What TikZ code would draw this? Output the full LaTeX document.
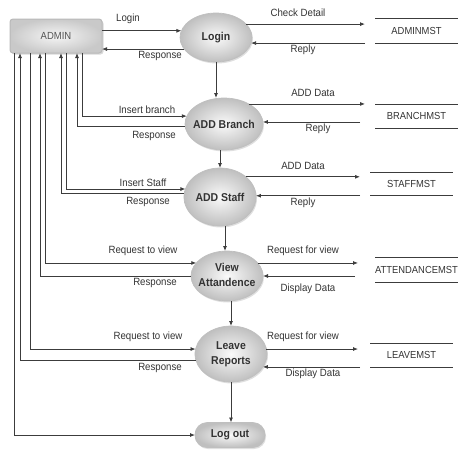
\documentclass[tikz,border=0pt]{standalone}
\usepackage{fontspec}
\setmainfont{Liberation Sans}[FakeStretch=0.92]
\usetikzlibrary{arrows.meta,shapes.geometric,shadows}
\definecolor{ink}{HTML}{333333}
\definecolor{ln}{HTML}{3C3C3C}
\newcommand\zw[1]{\makebox[0pt]{#1}}
\begin{document}
\begin{tikzpicture}[x=1pt,y=-1pt,
  proc/.style={ellipse, draw=gray!50, line width=0.7pt, shading=radial,
    inner color=gray!4, outer color=gray!50,
    drop shadow={opacity=0.25, shadow xshift=1pt, shadow yshift=-1.5pt},
    font=\fontsize{11.4}{15}\selectfont\bfseries, text=ink, inner sep=0pt, outer sep=0pt},
  logoutbox/.style={rectangle, rounded corners=12pt, draw=gray!50, line width=0.7pt, shading=radial,
    inner color=gray!4, outer color=gray!50,
    drop shadow={opacity=0.25, shadow xshift=1pt, shadow yshift=-1.5pt},
    minimum width=70pt, minimum height=25pt,
    font=\fontsize{11.4}{15}\selectfont\bfseries, text=ink, inner sep=0pt, outer sep=0pt},
  adminbox/.style={rectangle, rounded corners=3pt, draw=gray!55, line width=1pt,
    shading=radial, inner color=gray!8, outer color=gray!42,
    drop shadow={opacity=0.3, shadow xshift=1.5pt, shadow yshift=-1.5pt},
    minimum width=92pt, minimum height=34pt,
    font=\fontsize{10.3}{12}\selectfont, text=ink!85, inner sep=0pt, outer sep=0pt},
  store/.style={rectangle, minimum width=83pt, inner sep=0pt, outer sep=0pt,
    font=\fontsize{10.2}{12}\selectfont, text=ink},
  storeline/.style={draw=ln, line width=0.8pt},
  lbl/.style={font=\fontsize{10.5}{12}\selectfont, text=ink, inner sep=0pt},
  flow/.style={draw=ln, line width=0.8pt, -{Latex[length=5pt,width=4pt]}}
]
\useasboundingbox (0,0) rectangle (474,456);

% processes
\node[adminbox] (admin) at (56,36) {ADMIN};
\node[proc, minimum width=72pt, minimum height=49pt] (login) at (216,37.5) {\zw{Login}};
\node[proc, minimum width=78pt, minimum height=52pt] (branch) at (224,124) {\zw{ADD Branch}};
\node[proc, minimum width=72pt, minimum height=58pt] (staff) at (220,197) {\zw{ADD Staff}};
\node[proc, minimum width=72pt, minimum height=50pt] (view) at (227,276)
  {\zw{\begin{tabular}{@{}c@{}}View\\Attandence\end{tabular}}};
\node[proc, minimum width=72pt, minimum height=56pt] (leave) at (231,354)
  {\zw{\begin{tabular}{@{}c@{}}Leave\\Reports\end{tabular}}};
\node[logoutbox] (logout) at (230,435) {Log out};

% data stores
\node[store, minimum height=25pt] (adminmst) at (416.5,30.5) {ADMINMST};
\node[store, minimum height=24pt] (branchmst) at (416.5,116) {BRANCHMST};
\node[store, minimum height=23pt] (staffmst) at (411.5,183.5) {STAFFMST};
\node[store, minimum height=25pt] (attmst) at (416.5,269.5) {ATTENDANCEMST};
\node[store, minimum height=24pt] (leavemst) at (411.5,355) {LEAVEMST};
\foreach \s in {adminmst,branchmst,staffmst,attmst,leavemst}
  \draw[storeline] (\s.north west) -- (\s.north east) (\s.south west) -- (\s.south east);

% vertical flow
\draw[flow] (login.south) -- (login.south |- branch.north);
\draw[flow] (branch.south -| staff.north) -- (staff.north);
\draw[flow] ([xshift=5pt]staff.south) -- ([xshift=5pt]staff.south |- view.north);
\draw[flow] (view.south -| leave.north) -- (leave.north);
\draw[flow] (leave.south) -- (leave.south |- logout.north);

% Login
\draw[flow] (admin.east |- login.169) -- (login.169);
\draw[flow] (login.200) -- (admin.east |- login.200);
\draw[flow] (login.24) -- ([xshift=-10pt]adminmst.west |- login.24);
\draw[flow] ([xshift=-10pt]adminmst.west |- login.351) -- (login.351);
\node[lbl] (t1) at (128,19) {Login};
\node[lbl] (t2) at (160,56) {Response};
\node[lbl] (t3) at (298,13) {Check Detail};
\node[lbl] (t4) at (303,50) {Reply};

% ADD Branch
\draw[flow] ([xshift=72pt]admin.south west) |- (branch.168);
\draw[flow] (branch.184) -| ([xshift=67pt]admin.south west);
\draw[flow] (branch.39) -- ([xshift=-10pt]branchmst.west |- branch.39);
\draw[flow] ([xshift=-15pt]branchmst.west |- branch.3) -- (branch.3);
\node[lbl] (t5) at (147,110) {Insert branch};
\node[lbl] (t6) at (154,136) {Response};
\node[lbl] (t7) at (313,93) {ADD Data};
\node[lbl] (t8) at (318,129) {Reply};

% ADD Staff
\draw[flow] ([xshift=56pt]admin.south west) |- (staff.167);
\draw[flow] (staff.175) -| ([xshift=51pt]admin.south west);
\draw[flow] (staff.38) -- ([xshift=-10pt]staffmst.west |- staff.38);
\draw[flow] ([xshift=-10pt]staffmst.west |- staff.2) -- (staff.2);
\node[lbl] (t9) at (143,183) {Insert Staff};
\node[lbl] (t10) at (148,202) {Response};
\node[lbl] (t11) at (303,166) {ADD Data};
\node[lbl] (t12) at (303,203) {Reply};

% View Attandence
\draw[flow] ([xshift=35pt]admin.south west) |- (view.157);
\draw[flow] (view.180) -| ([xshift=30pt]admin.south west);
\draw[flow] (view.23) -- ([xshift=-17pt]attmst.west |- view.23);
\draw[flow] ([xshift=-20pt]attmst.west |- view.0) -- (view.0);
\node[lbl] (t13) at (143,251) {Request to view};
\node[lbl] (t14) at (155,283) {Response};
\node[lbl] (t15) at (303,251) {Request for view};
\node[lbl] (t16) at (308,289) {Display Data};

% Leave Reports
\draw[flow] ([xshift=20pt]admin.south west) |- (leave.172);
\draw[flow] (leave.191) -| ([xshift=10pt]admin.south west);
\draw[flow] (leave.8) -- ([xshift=-12pt]leavemst.west |- leave.8);
\draw[flow] ([xshift=-10pt]leavemst.west |- leave.338) -- (leave.338);
\node[lbl] (t17) at (148,337) {Request to view};
\node[lbl] (t18) at (160,368) {Response};
\node[lbl] (t19) at (303,337) {Request for view};
\node[lbl] (t20) at (313,374) {Display Data};

% Log out
\draw[flow] ([xshift=4pt]admin.south west) |- (logout.west);
\end{tikzpicture}
\end{document}
